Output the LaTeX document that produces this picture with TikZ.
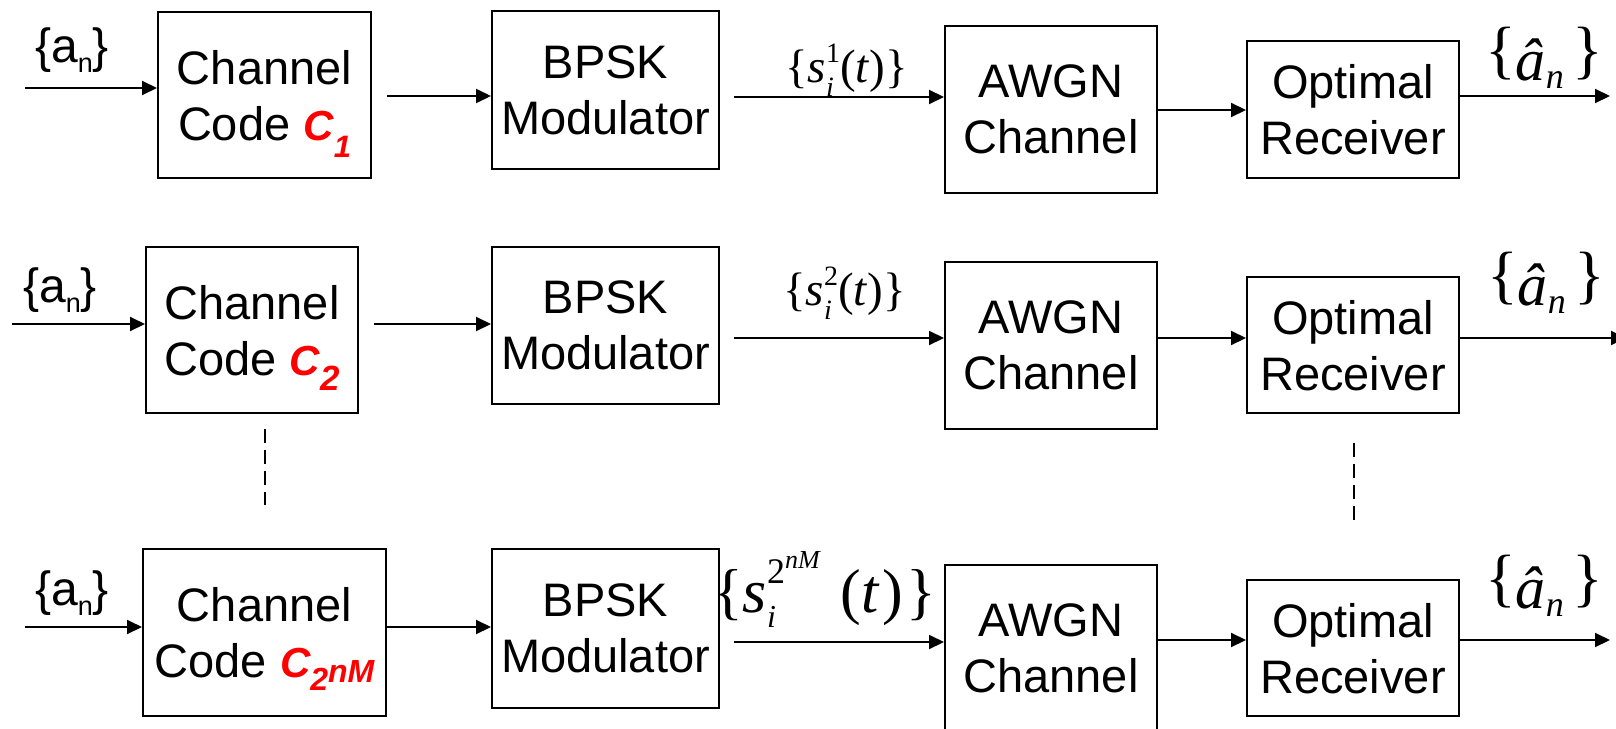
\documentclass[tikz,border=0pt]{standalone}
\usepackage{fontspec}
\setmainfont{Liberation Sans}
\newfontfamily\tnr{Liberation Serif}
\usetikzlibrary{arrows.meta}
\newcommand\fs[1]{\fontsize{#1}{56}\selectfont}
\newcommand\redC[1]{{\color{red}\fs{42}\bfseries\itshape C#1}}
\newcommand\supsub[4]{\setbox0\hbox{\raisebox{#1}{#2}}\setbox2\hbox{\raisebox{-#3}{#4}}%
  \ifdim\wd0>\wd2 \rlap{\box2}\box0\else\rlap{\box0}\box2\fi}
\newcommand\ahat{\raisebox{9pt}{\fs{64}\{}\textit{â}\raisebox{-0.14em}{\fs{36}\textit{n}}\hspace{0.15em}\raisebox{9pt}{\fs{64}\}}}
\begin{document}
\begin{tikzpicture}[x=1pt,y=-1pt,
  blk/.style={draw, line width=2pt, align=center, inner sep=0pt, text depth=0pt,
    font=\fs{47}},
  arr/.style={-{Triangle[length=15pt,width=14pt]}, line width=2pt},
  dsh/.style={line width=1.5pt, dash pattern=on 14pt off 7pt},
  lbl/.style={anchor=base west, inner sep=0pt},
  ain/.style={lbl, font=\fs{48}},
  sl/.style={lbl, font=\tnr\fs{47}},
  ah/.style={lbl, font=\tnr\fs{60}}]
\useasboundingbox (0,0) rectangle (1616,728);
\clip (0,0) rectangle (1616,728);
% ---- row 1
\node[blk, minimum width=213pt, minimum height=166pt] (cc1) at (264.5,95) {Channel\\Code \redC{\raisebox{-17pt}{\fs{31}1}}};
\node[blk, minimum width=227pt, minimum height=158pt] (bp1) at (605.5,90) {BPSK\\Modulator};
\node[blk, minimum width=212pt, minimum height=167pt] (aw1) at (1051,109.5) {AWGN\\Channel};
\node[blk, minimum width=212pt, minimum height=137pt] (rx1) at (1353,109.5) {Optimal\\Receiver};
% ---- row 2
\node[blk, minimum width=212pt, minimum height=166pt] (cc2) at (252,330) {Channel\\Code \redC{\raisebox{-15pt}{\fs{35}2}}};
\node[blk, minimum width=227pt, minimum height=157pt] (bp2) at (605.5,325.5) {BPSK\\Modulator};
\node[blk, minimum width=212pt, minimum height=167pt] (aw2) at (1051,345.5) {AWGN\\Channel};
\node[blk, minimum width=212pt, minimum height=136pt] (rx2) at (1353,345) {Optimal\\Receiver};
% ---- row 3
\node[blk, minimum width=243pt, minimum height=167pt] (cc3) at (264.5,632.5) {Channel\\Code \redC{\raisebox{-13pt}{\fs{32}2}\raisebox{-5pt}{\fs{32}nM}}};
\node[blk, minimum width=227pt, minimum height=159pt] (bp3) at (605.5,628.5) {BPSK\\Modulator};
\node[blk, minimum width=212pt, minimum height=167pt] (aw3) at (1051,648.5) {AWGN\\Channel};
\node[blk, minimum width=212pt, minimum height=136pt] (rx3) at (1353,648) {Optimal\\Receiver};
% ---- input labels
\node[ain] (a1) at (35,62) {\{a\raisebox{-10pt}{\fs{27}n}\}};
\node[ain] (a2) at (23,302) {\{a\raisebox{-10pt}{\fs{27}n}\}};
\node[ain] (a3) at (35,605) {\{a\raisebox{-10pt}{\fs{27}n}\}};
% ---- signal labels
\node[sl] (s1) at (785,82) {\{\textit{s}\supsub{0.42em}{\fs{28}1}{0.3em}{\fs{28}\textit{i}}(\textit{t})\}};
\node[sl] (s2) at (783,305) {\{\textit{s}\supsub{0.42em}{\fs{28}2}{0.3em}{\fs{28}\textit{i}}(\textit{t})\}};
\node[lbl, font=\tnr\fs{62}] (s3) at (713,612) {\{\textit{s}\supsub{0.46em}{\fs{36}2\raisebox{15pt}{\fs{26}\textit{nM}}}{0.25em}{\fs{32}\textit{i}}\hspace{20pt}(\textit{t}\hspace{2pt})\hspace{4pt}\}};
% ---- output labels
\node[ah] (h1) at (1485,80) {\ahat};
\node[ah] (h2) at (1487,305) {\ahat};
\node[ah] (h3) at (1485,608) {\ahat};
% ---- free ends
\coordinate (in1) at (25,88);
\coordinate (in2) at (12,324);
\coordinate (in3) at (25,627);
\coordinate (out1) at (1610,96);
\coordinate (out2) at (1626,338);
\coordinate (out3) at (1610,640);
% ---- connectors row 1
\draw[arr] (in1) -- (cc1.west |- in1);
\draw[arr, shorten <=15pt] (cc1.east |- 0,96) -- (bp1.west |- 0,96);
\draw[arr, shorten <=14pt] (bp1.east |- 0,97) -- (aw1.west |- 0,97);
\draw[arr] (aw1.east |- 0,110) -- (rx1.west |- 0,110);
\draw[arr] (rx1.east |- out1) -- (out1);
% ---- connectors row 2
\draw[arr] (in2) -- (cc2.west |- in2);
\draw[arr, shorten <=15pt] (cc2.east |- 0,324) -- (bp2.west |- 0,324);
\draw[arr, shorten <=14pt] (bp2.east |- 0,338) -- (aw2.west |- 0,338);
\draw[arr] (aw2.east |- 0,338) -- (rx2.west |- 0,338);
\draw[arr] (rx2.east |- out2) -- (out2);
% ---- connectors row 3
\draw[arr] (in3) -- (cc3.west |- in3);
\draw[arr] (cc3.east |- 0,627) -- (bp3.west |- 0,627);
\draw[arr, shorten <=14pt] (bp3.east |- 0,642) -- (aw3.west |- 0,642);
\draw[arr] (aw3.east |- 0,640) -- (rx3.west |- 0,640);
\draw[arr] (rx3.east |- out3) -- (out3);
% ---- dashed continuation marks
\coordinate (d1a) at (265,429);
\coordinate (d1b) at (265,505);
\coordinate (d2a) at (1354,443);
\coordinate (d2b) at (1354,520);
\draw[dsh] (d1a) -- (d1b);
\draw[dsh] (d2a) -- (d2b);
\end{tikzpicture}
\end{document}
